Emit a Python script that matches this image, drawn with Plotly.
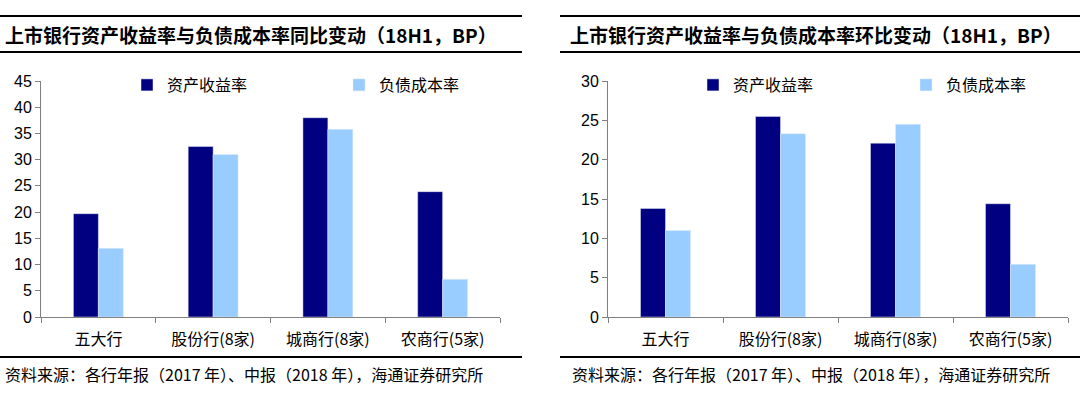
import plotly.graph_objects as go

categories = ["五大行", "股份行(8家)", "城商行(8家)", "农商行(5家)"]
yoy_asset = [19.7, 32.5, 38.0, 23.9]
yoy_liab = [13.1, 31.0, 35.8, 7.2]
qoq_asset = [13.8, 25.5, 22.1, 14.4]
qoq_liab = [11.0, 23.3, 24.5, 6.7]
series_names = ["资产收益率", "负债成本率"]
titles = ["上市银行资产收益率与负债成本率同比变动（18H1，BP）",
          "上市银行资产收益率与负债成本率环比变动（18H1，BP）"]
source = "资料来源：各行年报（2017 年）、中报（2018 年），海通证券研究所"

DARK = "#000080"
LIGHT = "#99CCFF"
W, H = 1080, 399
CJK = "Noto Sans CJK SC"

fig = go.Figure()
fig.add_trace(go.Bar(x=categories, y=yoy_asset, name=series_names[0], marker_color=DARK,
                     xaxis="x", yaxis="y", legend="legend"))
fig.add_trace(go.Bar(x=categories, y=yoy_liab, name=series_names[1], marker_color=LIGHT,
                     xaxis="x", yaxis="y", legend="legend"))
fig.add_trace(go.Bar(x=categories, y=qoq_asset, name=series_names[0], marker_color=DARK,
                     xaxis="x2", yaxis="y2", legend="legend2"))
fig.add_trace(go.Bar(x=categories, y=qoq_liab, name=series_names[1], marker_color=LIGHT,
                     xaxis="x2", yaxis="y2", legend="legend2"))

def py(pix):
    return 1 - pix / H

ydom = [py(317), py(81)]
axis_common = dict(showline=True, linecolor="#808080", linewidth=1, ticks="outside",
                   ticklen=5, tickcolor="#808080", showgrid=False, zeroline=False,
                   automargin=False)
xfont = dict(family=CJK, size=16, color="#000")
yfont = dict(family="Liberation Sans, Arial", size=16, color="#000")

fig.update_layout(
    width=W, height=H, margin=dict(l=0, r=0, t=0, b=0, autoexpand=False),
    paper_bgcolor="white", plot_bgcolor="white",
    barmode="group", bargap=0.565, bargroupgap=0,
    xaxis=dict(domain=[41 / W, 500 / W], anchor="y", tickson="boundaries",
               ticklabelstandoff=8, tickfont=xfont, **axis_common),
    yaxis=dict(domain=ydom, anchor="x", range=[0, 45], dtick=5, tickfont=yfont, **axis_common),
    xaxis2=dict(domain=[608 / W, 1068 / W], anchor="y2", tickson="boundaries",
                ticklabelstandoff=8, tickfont=xfont, **axis_common),
    yaxis2=dict(domain=ydom, anchor="x2", range=[0, 30], dtick=5, tickfont=yfont, **axis_common),
    legend=dict(orientation="h", x=127 / W, y=py(85), yanchor="middle", xanchor="left",
                entrywidth=167, entrywidthmode="pixels", itemwidth=30,
                font=dict(family=CJK, size=16, color="#000"), bgcolor="rgba(0,0,0,0)"),
    legend2=dict(orientation="h", x=693 / W, y=py(85), yanchor="middle", xanchor="left",
                 entrywidth=168, entrywidthmode="pixels", itemwidth=30,
                 font=dict(family=CJK, size=16, color="#000"), bgcolor="rgba(0,0,0,0)"),
)

shapes = []
for x0, x1 in [(0, 522), (560, 1080)]:
    for ypix, w in [(16, 2), (52, 2), (357, 2)]:
        shapes.append(dict(type="line", xref="paper", yref="paper",
                           x0=x0 / W, x1=x1 / W, y0=py(ypix), y1=py(ypix),
                           line=dict(color="#000", width=w)))
fig.update_layout(shapes=shapes)

annotations = []
for xpix, t in zip([3, 568], titles):
    annotations.append(dict(text="<b>" + t + "</b>", xref="paper", yref="paper",
                            x=xpix / W, y=py(34), xanchor="left", yanchor="middle",
                            showarrow=False, font=dict(family=CJK, size=19, color="#000")))
for xpix in [3, 570]:
    annotations.append(dict(text=source, xref="paper", yref="paper",
                            x=xpix / W, y=py(374), xanchor="left", yanchor="middle",
                            showarrow=False, font=dict(family=CJK, size=16, color="#000")))
fig.update_layout(annotations=annotations)

fig.write_html("out.html", config={"displayModeBar": False},
               post_script="document.body.style.margin='0';")
